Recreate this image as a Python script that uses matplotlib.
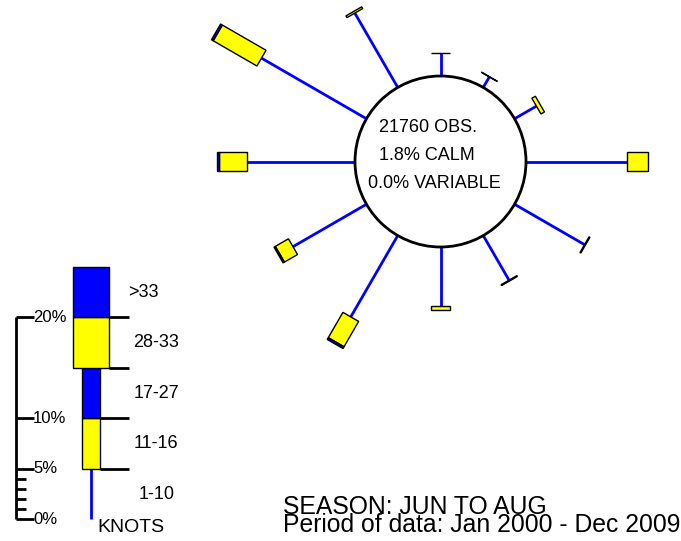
import numpy as np
import matplotlib.pyplot as plt
from matplotlib.patches import Polygon, Circle

plt.rcParams['font.family'] = ['Liberation Sans', 'DejaVu Sans']

# wind directions (degrees clockwise from north) and speed classes (knots)
directions = np.arange(0, 360, 30)
speed_bins = ['1-10', '11-16', '17-27', '28-33', '>33']

# percent frequency per direction for each speed class
pct_1_10 = [2.25, 1.2, 2.5, 10.0, 8.0, 5.1, 5.8, 9.3, 8.4, 10.7, 12.0, 8.5]
pct_11_16 = [0.03, 0.03, 0.4, 2.1, 0.1, 0.1, 0.45, 2.9, 1.5, 2.8, 5.0, 0.2]
pct_17_27 = [0, 0, 0, 0, 0, 0, 0, 0.2, 0.15, 0.2, 0.2, 0]
pct_28_33 = [0] * 12
pct_gt_33 = [0] * 12

n_obs = 21760
calm_pct = 1.8
variable_pct = 0.0

# legend key: each class drawn 5% long
legend_pct = [5, 5, 5, 5, 5]
legend_ticks = [0, 1, 2, 3, 4, 5, 10, 20]
legend_tick_labels = {0: '0%', 5: '5%', 10: '10%', 20: '20%'}

season = 'SEASON: JUN TO AUG'
period = 'Period of data: Jan 2000 - Dec 2009'

# drawing styles per class
colors = ['blue', 'yellow', 'blue', 'yellow', 'blue']
widths = [0, 1.8, 1.8, 3.6, 3.6]  # box widths in percent units

W, H = 681, 541
PPU = 10.1           # pixels per percent
CX, CY = 440.5, 161.5
R = 85.5 / PPU       # radius of the calm circle


def px(x, y):
    return (x - CX) / PPU, (CY - y) / PPU


fig = plt.figure(figsize=(W / 100, H / 100), dpi=100)
ax = fig.add_axes([0, 0, 1, 1])
x0, y0 = px(0, H)
x1, y1 = px(W, 0)
ax.set_xlim(x0, x1)
ax.set_ylim(y0, y1)
ax.axis('off')


def spoke(origin, theta, vals, base):
    t = np.radians(theta)
    u = np.array([np.sin(t), np.cos(t)])
    p = np.array([np.cos(t), -np.sin(t)])
    o = np.array(origin)
    r = base
    a, b = o + u * r, o + u * (r + vals[0])
    ax.plot([a[0], b[0]], [a[1], b[1]], color='blue', lw=2,
            solid_capstyle='butt', zorder=2)
    r += vals[0]
    for k in range(1, 5):
        v = vals[k]
        if v <= 0:
            continue
        hw = widths[k] / 2
        pts = [o + u * r + p * hw, o + u * (r + v) + p * hw,
               o + u * (r + v) - p * hw, o + u * r - p * hw]
        ax.add_patch(Polygon(pts, closed=True, fc=colors[k], ec='black',
                             lw=1.0, zorder=4))
        r += v


table = np.array([pct_1_10, pct_11_16, pct_17_27, pct_28_33, pct_gt_33]).T
for d, vals in zip(directions, table):
    spoke((0, 0), d, vals, R)

ax.add_patch(Circle((0, 0), R, fc='white', ec='black', lw=2, zorder=3))

for txt, (tx, ty) in zip([f'{n_obs} OBS.', f'{calm_pct:.1f}% CALM',
                          f'{variable_pct:.1f}% VARIABLE'],
                         [(428, 127), (427, 156), (434, 184)]):
    ax.text(*px(tx, ty), txt, ha='center', va='center', fontsize=13,
            zorder=5)

# legend key
lg = px(91, 519.3)
spoke(lg, 0, legend_pct, 0)

ax_x = px(16, 0)[0]
ax.plot([ax_x, ax_x], [lg[1], lg[1] + 20], color='black', lw=2,
        solid_capstyle='butt')
for t in legend_ticks:
    yy = lg[1] + t
    if t in legend_tick_labels:
        ax.plot([ax_x, px(34, 0)[0]], [yy, yy], color='black', lw=2,
                solid_capstyle='butt')
        ax.text(px(33, 0)[0], yy, legend_tick_labels[t], ha='left',
                va='center', fontsize=12)
    else:
        ax.plot([ax_x, px(26, 0)[0]], [yy, yy], color='black', lw=2,
                solid_capstyle='butt')

# class separators and labels
edges = np.cumsum(legend_pct)
tick_end = px(129, 0)[0]
for k in range(1, 5):
    yy = lg[1] + edges[k - 1]
    half = widths[1] / 2 if k < 3 else widths[3] / 2
    ax.plot([lg[0] + half, tick_end], [yy, yy], color='black', lw=2,
            solid_capstyle='butt', zorder=1)

label_x = [157, 156, 156, 156, 143]
for k, name in enumerate(speed_bins):
    yy = lg[1] + edges[k] - legend_pct[k] / 2
    ax.text(px(label_x[k], 0)[0], yy, name, ha='center', va='center',
            fontsize=13)
ax.text(*px(131, 527), 'KNOTS', ha='center', va='center', fontsize=14)

ax.text(*px(283, 513.5), season, ha='left', va='baseline', fontsize=17.8)
ax.text(*px(283, 532.5), period, ha='left', va='baseline', fontsize=17.8)

fig.savefig('out.png', dpi=100)
